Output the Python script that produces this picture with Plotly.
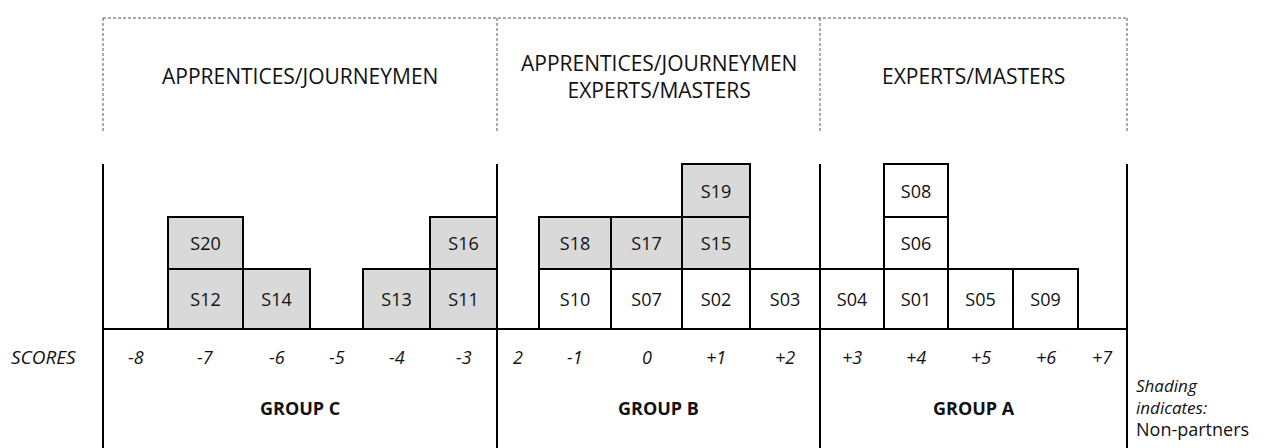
import plotly.graph_objects as go

# ---------------- data ----------------
score_labels = ["-8", "-7", "-6", "-5", "-4", "-3", "2", "-1", "0",
                "+1", "+2", "+3", "+4", "+5", "+6", "+7"]

student_ids = ["S12", "S20", "S14", "S13", "S11", "S16",
               "S10", "S18", "S07", "S17", "S02", "S15", "S19", "S03",
               "S04", "S01", "S06", "S08", "S05", "S09"]
student_scores = ["-7", "-7", "-6", "-4", "-3", "-3",
                  "-1", "-1", "0", "0", "+1", "+1", "+1", "+2",
                  "+3", "+4", "+4", "+4", "+5", "+6"]
non_partner = [1, 1, 1, 1, 1, 1,
               0, 1, 0, 1, 0, 1, 1, 0,
               0, 0, 0, 0, 0, 0]

group_names = ["GROUP C", "GROUP B", "GROUP A"]
group_levels = ["APPRENTICES/JOURNEYMEN",
                "APPRENTICES/JOURNEYMEN<br>EXPERTS/MASTERS",
                "EXPERTS/MASTERS"]
group_first_score = ["-8", "2", "+3"]

note_text = ("<i>Shading</i><br><i>indicates:</i><br>"
             "<span style='font-size:18px'>Non-partners</span>")

# ---------------- layout geometry (style) ----------------
PAGE_W, PAGE_H = 1275, 448
OFF = 8                      # default page body margin
W, H = PAGE_W - OFF, PAGE_H - OFF
FONT = "Open Sans"
TXT = "#111111"
SHADE = "#d9d9d9"
DASH_COL = "#555555"
x0 = 103
col_widths = [65, 75, 67, 53, 67, 67, 42, 72, 71, 68, 70, 64, 64, 65, 65, 49]
row_heights = [60, 52, 53]
baseline_px = 329
top_solid_px = 164
dash_top_px = 18
dash_bot_px = 132


def Y(px):
    # page pixel row -> upward data coordinate
    return PAGE_H - px


edges = [x0]
for w in col_widths:
    edges.append(edges[-1] + w)
col_center = {s: (edges[i] + edges[i + 1]) / 2 for i, s in enumerate(score_labels)}
col_width = {s: col_widths[i] for i, s in enumerate(score_labels)}
row_base = [baseline_px]
for h in row_heights:
    row_base.append(row_base[-1] - h)

# stacking
xs, ws, bases, hs, colors = [], [], [], [], []
count = {}
for sid, sc, npf in zip(student_ids, student_scores, non_partner):
    lvl = count.get(sc, 0)
    count[sc] = lvl + 1
    xs.append(col_center[sc])
    ws.append(col_width[sc])
    bases.append(Y(row_base[lvl]))
    hs.append(row_heights[lvl])
    colors.append(SHADE if npf else "white")

fig = go.Figure()
fig.add_trace(go.Bar(
    x=xs, y=hs, base=bases, width=ws,
    marker=dict(color=colors, line=dict(color="black", width=2)),
    text=student_ids, textposition="inside", insidetextanchor="middle",
    textangle=0, textfont=dict(family=FONT, size=18, color=TXT),
    hoverinfo="skip", showlegend=False,
))

shapes = []
gidx = [score_labels.index(s) for s in group_first_score] + [len(score_labels)]
bounds = [edges[i] for i in gidx]
for bx in bounds:
    shapes.append(dict(type="line", xref="x", yref="y", x0=bx, x1=bx,
                       y0=Y(top_solid_px), y1=Y(PAGE_H + 5),
                       line=dict(color="black", width=2)))
    shapes.append(dict(type="line", xref="x", yref="y", x0=bx, x1=bx,
                       y0=Y(dash_top_px), y1=Y(dash_bot_px),
                       line=dict(color=DASH_COL, width=1, dash="3px,2px")))
shapes.append(dict(type="line", xref="x", yref="y", x0=bounds[0], x1=bounds[-1],
                   y0=Y(dash_top_px), y1=Y(dash_top_px),
                   line=dict(color=DASH_COL, width=1, dash="3px,2px")))
shapes.append(dict(type="line", xref="x", yref="y", x0=bounds[0], x1=bounds[-1],
                   y0=Y(baseline_px), y1=Y(baseline_px),
                   line=dict(color="black", width=2)))

ann = []
for s in score_labels:
    ann.append(dict(x=col_center[s], y=Y(357), text="<i>%s</i>" % s, showarrow=False,
                    xref="x", yref="y", font=dict(family=FONT, size=18, color=TXT)))
ann.append(dict(x=43, y=Y(357), text="<i>SCORES</i>", showarrow=False, xref="x", yref="y",
                font=dict(family=FONT, size=19, color=TXT)))
for i, (gn, gl) in enumerate(zip(group_names, group_levels)):
    cx = (bounds[i] + bounds[i + 1]) / 2
    ann.append(dict(x=cx, y=Y(408), text="<b>%s</b>" % gn, showarrow=False, xref="x", yref="y",
                    font=dict(family=FONT, size=18, color=TXT)))
    ann.append(dict(x=cx, y=Y(76), text=gl, showarrow=False, xref="x", yref="y",
                    font=dict(family=FONT, size=21, color=TXT)))
ann.append(dict(x=1134, y=Y(407), text=note_text, showarrow=False, xref="x", yref="y",
                xanchor="left", align="left",
                font=dict(family=FONT, size=17, color=TXT)))

fig.update_layout(
    width=W, height=H, margin=dict(l=0, r=0, t=0, b=0),
    paper_bgcolor="white", plot_bgcolor="white",
    barmode="overlay",
    xaxis=dict(range=[OFF, PAGE_W], visible=False, fixedrange=True),
    yaxis=dict(range=[0, PAGE_H - OFF], visible=False, fixedrange=True),
    shapes=shapes, annotations=ann,
    uniformtext=dict(minsize=18, mode="show"),
)

fig.write_html("out.html")
